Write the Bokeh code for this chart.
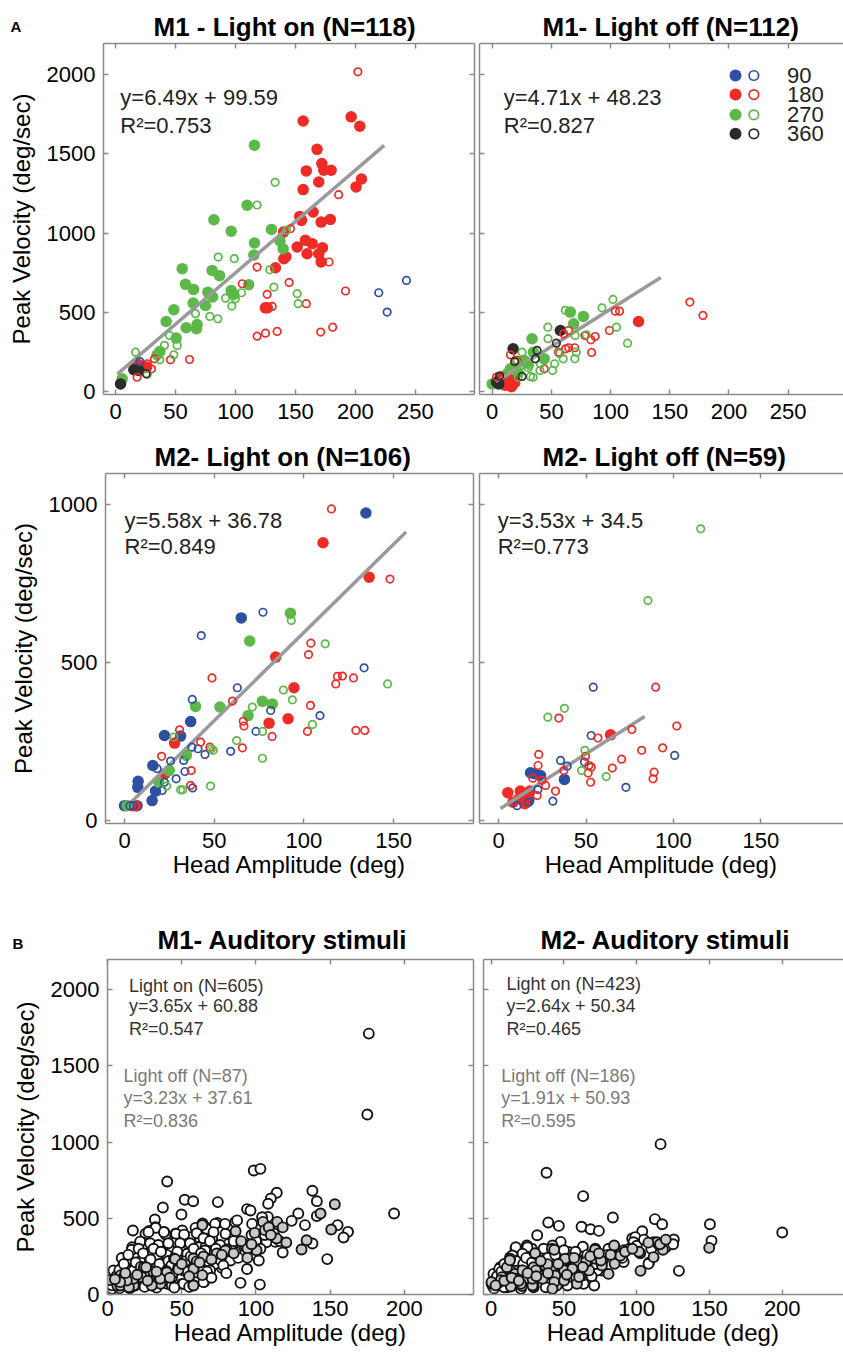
from bokeh.plotting import figure
from bokeh.layouts import column, row
from bokeh.models import Range1d, LinearAxis, FixedTicker, Label, Title
from bokeh.embed import file_html
from bokeh.resources import INLINE

FONT = "Liberation Sans"
AXC = "#8a8a8a"
BLUE, RED, GREEN, BLACK = "#2f4fa2", "#ee2b25", "#5cb848", "#2b2b2b"
FIT_GRAY = "#9a9a9a"
OFF_FILL = "#c8c8c8"

# ---------------- data (x = head amplitude deg, y = peak velocity deg/s) -------------
M1_ON_180_F = [(156.4,1707),(196.4,1733),(203.6,1674),(168,1528),(172,1438),(159,1392),(173.6,1396),
               (179.7,1396),(169.4,1322),(156.4,1274),(205,1341),(200.5,1291),(153.6,1105),(155,1080),
               (164.7,1133),(171.4,1069),(179,1086),(140,1006),(151.4,912),(158.3,954),(163.9,933),
               (159.7,869),(169.4,869),(172.5,907),(171.4,817),(140.3,838),(142,850),(133.3,781),
               (124.9,528),(126.5,528),(18,175),(26,154),(22,160)]
M1_ON_180_O = [(202,2017),(186,1242),(178,817),(118,785),(105.6,680),(144.7,688),(145.8,1027),(126.4,613),
               (130.6,537),(159,554),(191.7,634),(118,349),(125,368),(134.7,379),(171,375),(181,406),
               (45.8,200),(61.7,202),(32.5,206),(30,143),(18,90),(26.4,175)]
M1_ON_270_F = [(115.8,1554),(109.7,1175),(82,1084),(96.4,1011),(130,1023),(115.8,937),(137,950),(139.7,901),
               (115.3,861),(55.6,775),(80.5,764),(86.7,731),(58.3,676),(65,644),(111,674),(96.4,638),
               (77,627),(81,596),(98.6,613),(64.7,558),(75,543),(48.6,516),(42.2,442),(58.9,402),
               (68,423),(67.5,396),(50.6,337),(37,253),(34.7,232),(5.6,80)]
M1_ON_270_O = [(133,1320),(118,1177),(85.6,848),(99,838),(128.6,768),(132,659),(151.4,617),(152.3,554),
               (105,623),(99.9,585),(91.7,589),(97,539),(66.7,491),(78.6,474),(85.3,459),(142.5,1017),
               (45,354),(51.4,291),(40.8,291),(48.6,232),(37,200),(16.7,248),(26.4,107)]
M1_ON_90_O = [(242.5,701),(219.4,623),(226.4,501),(20.3,189)]
M1_ON_360_F = [(4.2,48),(15.3,137),(19.4,133)]
M1_ON_360_O = [(25.6,112)]

M1_OFF_180_F = [(123.6,442),(16.9,69),(14,48),(19,55),(7,91),(16.3,30),(11,40)]
M1_OFF_180_O = [(167,564),(178,480),(104,507),(107.6,507),(99,385),(87,347),(83.4,326),(84,246),
                (64.6,385),(60.4,364),(57,242),(64.6,276),(69.7,276),(44,143),(15.4,232),(21,196),
                (3.7,91),(78.3,353),(62,269),(55.8,248)]
M1_OFF_270_F = [(66,501),(77,474),(68.8,427),(33.7,333),(34.8,248),(44,206),(15.4,143),(8.4,80),
                (0,48),(27,196),(12.6,112),(22,120),(30,180),(5,60)]
M1_OFF_270_O = [(102,581),(92.7,528),(61.8,512),(47,406),(105,406),(114.3,305),(79.5,358),(70,354),
                (71,248),(52.8,175),(51,133),(60,206),(40.7,175),(31.5,164),(32.3,95),(25.3,248),
                (47.2,333),(23.3,154),(20.6,185),(30.4,150),(34.6,90),(40.3,132),(22,90),(56.3,242),(69.8,206)]
M1_OFF_360_F = [(57.6,385),(17.7,269),(5.6,48),(3.7,59)]
M1_OFF_360_O = [(54.2,305),(37.9,259),(36.5,206),(19,189),(25.3,95),(6.2,97)]

M2_ON_90_F = [(134.6,973),(65.1,641),(36.9,313),(22.3,269),(31.3,267),(15.8,174),(7.6,124),(7.4,105),
              (17.3,93),(15.4,63),(0,47),(7,47)]
M2_ON_90_O = [(77.2,659),(42.8,585),(62.9,420),(37.8,383),(133.6,483),(81.5,348),(109,332),(73.3,282),
              (37.6,232),(41,227),(44.9,209),(59.2,219),(33,190),(25.7,188),(18.2,164),(33.7,155),
              (28.8,132),(22.3,121),(38,103),(21,95),(3,47),(5,47)]
M2_ON_180_F = [(110.7,879),(136.4,770),(84.3,517),(94.5,420),(91.2,322),(80.6,308),(27.9,245),
               (22.5,148),(4.3,47),(6,47)]
M2_ON_180_O = [(115.4,986),(148,764),(103.9,561),(102.6,525),(117.8,432),(118.7,456),(121.5,457),
               (127.7,451),(129,285),(134,285),(103.7,364),(102,282),(82.3,266),(48.8,451),(60.2,378),
               (66.2,314),(66.6,299),(65.7,230),(42.4,248),(47.6,232),(30.7,287),(20.7,203),(37.2,158),(36.8,111)]
M2_ON_270_F = [(92.5,656),(69.8,568),(39.6,361),(53.2,359),(76.9,377),(82.4,369),(68.9,332),(34.4,206),
               (24.8,158),(19.2,121),(1.5,47)]
M2_ON_270_O = [(93,633),(111.9,559),(146.7,432),(88.6,413),(93.6,382),(71.3,359),(104.8,304),(77,282),
               (62.5,253),(27.5,264),(48.4,227),(49.5,222),(76.9,197),(48,109),(31.3,97),(32.5,97),
               (23.5,109),(35,210),(25.5,160)]

M2_OFF_90_F = [(37.6,130),(18.2,151),(23.9,142),(20.5,148),(17.2,63)]
M2_OFF_90_O = [(54.1,422),(52.9,269),(100.7,206),(35.4,190),(39.2,172),(49.1,185),(72.8,105),(31,61),
               (22.4,98),(10.5,47),(17.2,58)]
M2_OFF_180_F = [(64,271),(5.2,88),(12.4,93),(17.8,93),(8.2,58),(14.9,53),(11.5,69),(16,75)]
M2_OFF_180_O = [(89.8,422),(101.9,299),(76.2,288),(56.8,261),(34.4,324),(81.8,222),(93.8,230),(70.3,194),
                (49.7,203),(65,166),(51.6,174),(52.9,169),(51.2,150),(52.6,121),(88.9,153),(88.3,132),
                (22.9,209),(22.5,174),(37.3,158),(24.8,127),(26.8,111),(19.5,134),(32.5,93),(22,79)]
M2_OFF_270_O = [(115.6,923),(85.4,696),(37.6,355),(28.1,327),(49.3,222),(47.4,158),(61.5,139)]

M1_AUD_ON = [(176,1711),(175,1180),(193,531),(138,680),(141,612),(114,667),(110,630),(128.5,531),(133,455),
             (141,514),(155,455),(162,411),(159,374),(148,232),(138,334),(118,275),(124,483),(108,509),
             (94,560),(113,345),(77,175),(86,476),(74,470),(64,466),(38,411),(28,417),(10,236),(16,230),
             (23.5,334),(40.2,741),(52,621),(57.7,612),(74.3,606),(37.3,571),(49.8,525),(31.9,492),
             (17.1,420),(98.5,813),(103,824),(108.2,595),(96.3,551),(87.3,486),(66,441),(59.3,437),
             (50.3,420),(45.8,398),(39.1,394),(32.3,441),(25.6,398),(23.3,343),(16.6,310),(33.4,321),
             (42.4,310),(53.7,332),(61.5,310),(70.5,365),(79.5,398),(97.4,463),(104.1,507),(107,343),
             (90.7,321),(81.7,332),(94,167),(89.6,76),(102.6,65),(77.2,245),(66,245),(57,212),(52.5,179),
             (44.6,157),(39,179),(32.3,212),(25.6,245),(19.9,179),(14.4,157),(7.6,113),(5.4,70),(12.1,59),
             (21.1,92),(30,70),(40.2,70),(50.3,70),(59.3,113),(64.9,81),(72.7,201),(82.8,223),(61.5,376),
             (45.8,343),(12.1,135),(9.9,179),(18.9,245),(26.7,300),(38,267),(46.9,245),(53.7,267),
             (43.5,113),(34.6,124),(24.5,135),(3.1,37),(0.9,70),(55.9,376),(66,310),(71.6,289),(86.2,278),
             (101.9,223),(110.8,420),(115.3,452),
             (32.5,437),(27.6,409),(38.1,409),(46.2,398),(51.6,393),(60.1,402),(66.9,430),(72.5,463),
             (71.4,409),(79.2,463),(22,347),(28.7,336),(34.3,325),(41,336),(48.9,336),(55.6,336),(64.6,369),
             (57.9,267),(65.7,289),(75.8,325),(9.6,239),(16.4,293),(22,217),(27.6,271),(33.2,249),(39.9,260),
             (46.7,239),(52.3,217),(61.3,228),(68,217),(75.8,228),(4,157),(11.9,168),(17.5,157),(28.7,146),
             (36.6,157),(44.4,146),(51.2,157),(60.1,135),(69.1,157),(5.1,92),(10.8,70),(18.6,59),(26.5,92),
             (34.3,70),(43.3,59),(51.2,70),(59,81),(64.6,81),
             (3,60),(6,120),(8,160),(11,200),(14,260),(19,210),(21,300),(24,270),(27,160),(29,230),(31,300),
             (35,200),(36,280),(41,220),(43,190),(47,280),(49,200),(54,150),(56,250),(58,300),(62,180),
             (63,270),(67,150),(69,350),(73,300),(76,270),(78,190),(83,300),(85,350),(88,240),(92,330),
             (95,290),(97,390),(100,350),(103,300),(106,390),(112,400),(116,350),(8,40),(15,40),(25,50),
             (33,45),(45,45),(55,50),(70,110),(80,140)]
M1_AUD_OFF = [(153.1,592),(143.5,531),(150.7,426),(134.1,356),(130.7,295),(120.4,341),(113.9,367),
              (114.3,476),(104.7,476),(106,422),(100.4,290),(99.1,404),(94.2,301),(94.2,240),(86.3,415),
              (80.3,295),(73.5,269),(63.9,455),(65,247),(57.8,236),(63.9,127),(57.8,61),(47.5,170),
              (44.8,236),(39.7,153),(37.7,105),(29.1,155),(24.7,127),(29.8,72),(18.4,101),(13.5,94),
              (6.7,57),(1.8,94),(9,127),(22.4,181),(108.6,441),(58.1,179),(24.5,179),(17.7,59),(11,113),
              (8.7,59),(35.7,70),(14.4,48),
              (45.5,232),(60.1,217),(64.6,249),(47.8,163),(57.9,168),(39.9,146),(26,179),(23.1,114),
              (17.5,103),(13,92),(8.5,81),(29.8,59),(35.5,103),(57.9,59),(79.4,289),
              (5,100),(12,140),(20,130),(27,90),(33,150),(42,110),(50,200),(55,120),(62,210),(70,230),
              (77,260),(85,270),(90,350),(97,330),(110,390),(118,440)]

M2_AUD_ON = [(116.4,986),(38,798),(63.2,645),(83.6,505),(200,407),(150.3,461),(151.4,352),(129,155),
             (112.5,494),(117.5,461),(125.5,361),(103.8,415),(96.9,367),(39.2,472),(46.5,450),(62.1,444),
             (68.3,428),(74,417),(31.6,389),(47.7,345),(63,313),(81.6,295),(91.2,291),(108.4,208),
             (25.2,302),(16.7,302),(53.8,275),(38.5,291),(99,376),(42.8,300),(37.1,271),(28,300),
             (24.5,321),(22.2,267),(13,245),(6.2,179),(1.6,135),(0.5,81),(2.7,59),(10.8,48),(15.3,114),
             (22.2,81),(29.1,48),(38.2,70),(46.3,114),(54.3,201),(66.9,179),(72.6,245),(80.6,300),(91,213),
             (88.7,267),(108.1,201),(111.6,343),(119.6,343),(97.8,343),(76.1,157),(63.5,70),(52,92),
             (45.1,168),(33.7,179),(27,135),(17.8,168),(8.5,114),(31.4,223),(49.7,223),(61.2,146),
             (16.9,310),(24.9,310),(42.1,321),(53.6,278),(44.4,289),(21.5,267),(14.6,256),(5.5,168),
             (15.8,190),(23.8,190),(36.4,234),(49,223),(51.3,136),(40.1,158),(30.7,147),(21.5,136),
             (12.3,125),(3.2,103),(0.9,59),(8.9,48),(57,199),(65,190),(62.7,125),(52.4,59),(37.5,48),
             (20.4,37),(73.1,158),(70.8,59),
             (2,40),(4,120),(7,150),(9,200),(12,90),(14,150),(17,220),(19,120),(22,200),(24,240),(26,100),
             (28,210),(32,260),(34,140),(36,300),(39,240),(42,130),(44,260),(47,190),(50,290),(53,150),
             (55,240),(58,280),(62,220),(66,260),(69,120),(72,200),(77,230),(80,260),(85,250),(90,240),
             (95,300),(100,320),(105,360),(110,300),(115,330),(120,310),(125,330)]
M2_AUD_OFF = [(149.8,306),(84.5,321),(113.9,343),(118,293),(111.6,245),(102.4,271),(84.8,201),(80.6,135),
              (88.7,254),(71.5,300),(71.5,234),(76.1,190),(65.7,201),(60,212),(61.2,125),(58.9,70),
              (54.3,168),(48.6,179),(41.7,168),(44,125),(45.1,59),(37.1,190),(41.7,300),(30.2,267),
              (36,125),(29.1,179),(21.1,157),(23.4,103),(16.5,135),(13,234),(10.8,179),(15.3,70),
              (21.1,55),(7.3,114),(5,77),(0.3,70),(29.1,59),(50.8,234),(102.6,155),(101.5,280),
              (12.8,224),(30.2,271),(43.3,293),(71.4,293),(30.7,158),(38.7,199),(21.5,158),(16.9,103),
              (6.6,94),(0.2,81),(13.5,52),(20.4,70),(28.4,59),(35.3,103),(43.3,81),(42.1,37),(50.1,158),
              (55.8,169),(60.4,114),(67.3,158),(65,212),(75.4,223),(50.1,92),(28.4,103),
              (3,60),(9,90),(14,110),(19,90),(25,140),(31,120),(34,220),(39,140),(46,200),(52,130),
              (57,240),(63,180),(68,250),(74,270),(82,260),(92,280),(97,300),(108,340),(116,330),(120,360)]

# regression fits: (slope, intercept, x_start, x_end)
FIT_M1_ON = (6.49, 99.59, 1.5, 224)
FIT_M1_OFF = (4.71, 48.23, 3, 142.4)
FIT_M2_ON = (5.58, 36.78, 3, 157)
FIT_M2_OFF = (3.53, 34.5, 1, 83.5)

LEGEND_LABELS = ["90", "180", "270", "360"]
LEGEND_COLORS = [BLUE, RED, GREEN, BLACK]
LEGEND_Y = [1994, 1874, 1746, 1626]

TICKS_X_A1 = [0, 50, 100, 150, 200, 250]
TICKS_Y_A1 = [0, 500, 1000, 1500, 2000]
TICKS_X_A2 = [0, 50, 100, 150]
TICKS_Y_A2 = [0, 500, 1000]
TICKS_X_B = [0, 50, 100, 150, 200]
TICKS_Y_B = [0, 500, 1000, 1500, 2000]

YLAB = "Peak Velocity (deg/sec)"
XLAB = "Head Amplitude (deg)"


def style_axis(ax, ticks, labels=True, label_text=None, tick_standoff=9, lab_standoff=0):
    ax.ticker = FixedTicker(ticks=ticks)
    ax.axis_line_color = AXC
    ax.axis_line_width = 1.5
    ax.major_tick_line_color = AXC
    ax.major_tick_line_width = 1.5
    ax.major_tick_in = 5
    ax.major_tick_out = 0
    ax.minor_tick_line_color = None
    ax.major_label_text_font = FONT
    ax.major_label_text_color = "black"
    if labels:
        ax.major_label_text_font_size = "22px"
        ax.major_label_standoff = tick_standoff
    else:
        ax.major_label_text_font_size = "0px"
        ax.major_label_standoff = 0
    if label_text:
        ax.axis_label = label_text
        ax.axis_label_text_font = FONT
        ax.axis_label_text_font_size = "24px"
        ax.axis_label_text_font_style = "normal"
        ax.axis_label_text_color = "black"
        ax.axis_label_standoff = lab_standoff


def make_fig(w, h, lb, rb, tb, bb, xr, yr, xt, yt, ylabels, xlabel, ylabel, right_axis,
             title, t_off, letter=None, l_off=0, l_stand=0, t_stand=3, xtick_standoff=9):
    p = figure(width=w, height=h, x_range=Range1d(*xr), y_range=Range1d(*yr),
               output_backend="svg", toolbar_location=None, title=None,
               min_border_left=lb, min_border_right=rb, min_border_top=tb, min_border_bottom=bb)
    p.grid.visible = False
    p.outline_line_color = None
    p.background_fill_color = "white"
    p.border_fill_color = "white"
    style_axis(p.xaxis[0], xt, True, xlabel, tick_standoff=xtick_standoff, lab_standoff=0)
    style_axis(p.yaxis[0], yt, ylabels, ylabel, tick_standoff=8, lab_standoff=9)
    top = LinearAxis()
    style_axis(top, xt, False)
    p.add_layout(top, "above")
    if right_axis:
        r = LinearAxis()
        style_axis(r, yt, False)
        p.add_layout(r, "right")
    p.add_layout(Title(text=title, align="left", offset=t_off, standoff=t_stand, vertical_align="bottom",
                       text_font=FONT, text_font_size="26px", text_font_style="bold",
                       text_color="black"), "above")
    if letter:
        p.add_layout(Title(text=letter, align="left", offset=l_off, standoff=l_stand,
                           vertical_align="bottom", text_font=FONT, text_font_size="15px",
                           text_font_style="bold", text_color="black"), "above")
    return p


def pts(p, data, color, filled):
    xs = [d[0] for d in data]
    ys = [d[1] for d in data]
    if filled:
        p.scatter(xs, ys, size=11.5, fill_color=color, line_color=None)
    else:
        p.scatter(xs, ys, size=7.5, fill_color=None, line_color=color, line_width=1.7)


def aud(p, data, fill):
    xs = [d[0] for d in data]
    ys = [d[1] for d in data]
    p.scatter(xs, ys, size=10, fill_color=fill, line_color="#141414", line_width=1.9)


def fit(p, f):
    a, b, x0, x1 = f
    p.line([x0, x1], [a * x0 + b, a * x1 + b], line_color=FIT_GRAY, line_width=3.5)


def txt(p, x, y, s, size="22px", color="#222222"):
    p.add_layout(Label(x=x, y=y, text=s, text_font=FONT, text_font_size=size, text_color=color,
                       text_baseline="alphabetic"))


# ---------------- Row 1: M1 light on / off ----------------
p1 = make_fig(476, 434, 103, 2, 43, 40, (-10, 299.2), (-19, 2196), TICKS_X_A1, TICKS_Y_A1, True, None, YLAB,
              True, "M1 - Light on (N=118)", 50, letter="A", l_off=-93, l_stand=-52.6, t_stand=3)
pts(p1, M1_ON_180_F, RED, True)
pts(p1, M1_ON_270_F, GREEN, True)
pts(p1, M1_ON_360_F, BLACK, True)
fit(p1, FIT_M1_ON)
pts(p1, M1_ON_180_O, RED, False)
pts(p1, M1_ON_270_O, GREEN, False)
pts(p1, M1_ON_90_O, BLUE, False)
pts(p1, M1_ON_360_O, BLACK, False)
txt(p1, 4, 1855, "y=6.49x + 99.59")
txt(p1, 4, 1676, "R²=0.753")

p2 = make_fig(367, 434, 3, 0, 43, 40, (-10.7, 296.7), (-19, 2196), TICKS_X_A1, TICKS_Y_A1, False, None, None,
              False, "M1- Light off (N=112)", 63)
pts(p2, M1_OFF_270_F, GREEN, True)
pts(p2, M1_OFF_180_F, RED, True)
pts(p2, M1_OFF_360_F, BLACK, True)
fit(p2, FIT_M1_OFF)
pts(p2, M1_OFF_180_O, RED, False)
pts(p2, M1_OFF_270_O, GREEN, False)
pts(p2, M1_OFF_360_O, BLACK, False)
txt(p2, 9.8, 1855, "y=4.71x + 48.23")
txt(p2, 9.8, 1676, "R²=0.827")
for lab, col, ly in zip(LEGEND_LABELS, LEGEND_COLORS, LEGEND_Y):
    p2.scatter([205.5], [ly], size=12, fill_color=col, line_color=None)
    p2.scatter([221], [ly], size=9.5, fill_color=None, line_color=col, line_width=1.7)
    p2.add_layout(Label(x=249, y=ly, text=lab, text_font=FONT, text_font_size="22px",
                        text_color="#222222", text_baseline="middle"))

# ---------------- Row 2: M2 light on / off ----------------
p3 = make_fig(475, 459, 105, 2, 39, 70, (-10.6, 194.6), (-9.5, 1098), TICKS_X_A2, TICKS_Y_A2, True, XLAB, YLAB,
              True, "M2- Light on (N=106)", 49)
pts(p3, M2_ON_90_F, BLUE, True)
pts(p3, M2_ON_180_F, RED, True)
pts(p3, M2_ON_270_F, GREEN, True)
fit(p3, FIT_M2_ON)
pts(p3, M2_ON_90_O, BLUE, False)
pts(p3, M2_ON_180_O, RED, False)
pts(p3, M2_ON_270_O, GREEN, False)
txt(p3, 0, 949, "y=5.58x + 36.78")
txt(p3, 0, 867, "R²=0.849")

p4 = make_fig(368, 459, 4, 0, 39, 70, (-11, 197.3), (-9.5, 1098), TICKS_X_A2, TICKS_Y_A2, False, XLAB, None,
              False, "M2- Light off (N=59)", 63)
pts(p4, M2_OFF_90_F, BLUE, True)
pts(p4, M2_OFF_180_F, RED, True)
fit(p4, FIT_M2_OFF)
pts(p4, M2_OFF_90_O, BLUE, False)
pts(p4, M2_OFF_180_O, RED, False)
pts(p4, M2_OFF_270_O, GREEN, False)
txt(p4, -0.6, 949, "y=3.53x + 34.5")
txt(p4, -0.6, 867, "R²=0.773")

# ---------------- Row 3: auditory stimuli ----------------
p5 = make_fig(475, 460, 107, 2, 66, 59, (0, 246.5), (0, 2197), TICKS_X_B, TICKS_Y_B, True, XLAB, YLAB,
              True, "M1- Auditory stimuli", 50, letter="B", l_off=-95, l_stand=-66, t_stand=9,
              xtick_standoff=6)
aud(p5, M1_AUD_ON, "white")
aud(p5, M1_AUD_OFF, OFF_FILL)
txt(p5, 14.5, 2020, "Light on (N=605)", size="18px", color="#333333")
txt(p5, 14.5, 1889, "y=3.65x + 60.88", size="18px", color="#333333")
txt(p5, 14.5, 1742, "R²=0.547", size="18px", color="#333333")
txt(p5, 10.8, 1430, "Light off (N=87)", size="18px", color="#7a7a7a")
txt(p5, 10.8, 1287, "y=3.23x + 37.61", size="18px", color="#7a7a7a")
txt(p5, 10.8, 1141, "R²=0.836", size="18px", color="#7a7a7a")

p6 = make_fig(368, 460, 8, 0, 66, 59, (-5.3, 242.1), (0, 2197), TICKS_X_B, TICKS_Y_B, False, XLAB, None,
              False, "M2- Auditory stimuli", 57, t_stand=9, xtick_standoff=6)
aud(p6, M2_AUD_ON, "white")
aud(p6, M2_AUD_OFF, OFF_FILL)
txt(p6, 10.5, 2037, "Light on (N=423)", size="18px", color="#333333")
txt(p6, 10.5, 1889, "y=2.64x + 50.34", size="18px", color="#333333")
txt(p6, 10.5, 1742, "R²=0.465", size="18px", color="#333333")
txt(p6, 6.9, 1430, "Light off (N=186)", size="18px", color="#7a7a7a")
txt(p6, 6.9, 1287, "y=1.91x + 50.93", size="18px", color="#7a7a7a")
txt(p6, 6.9, 1141, "R²=0.595", size="18px", color="#7a7a7a")

layout = column(row(p1, p2), row(p3, p4), row(p5, p6))
open("out.html", "w").write(file_html(layout, INLINE))
